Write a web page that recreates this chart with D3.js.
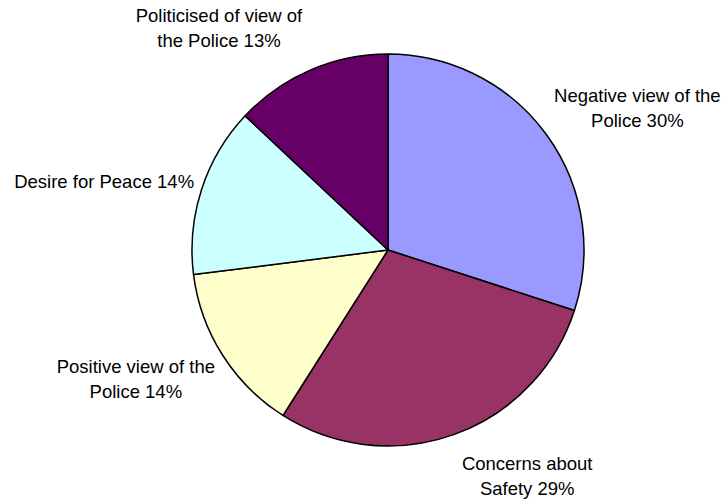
<!DOCTYPE html>
<html>
<head>
<meta charset="utf-8">
<script src="https://cdn.jsdelivr.net/npm/d3@7"></script>
<style>
  body { margin: 0; background: #fff; }
  text { font-family: "Liberation Sans", Arial, sans-serif; font-size: 18.5px; fill: #000; }
</style>
</head>
<body>
<script>
// slices, clockwise from 12 o'clock
const categories = ["Negative view of the|Police", "Concerns about|Safety", "Positive view of the|Police", "Desire for Peace", "Politicised of view of|the Police"];
const values = [30, 29, 14, 14, 13];
const colors = ["#9999FF", "#993366", "#FFFFCC", "#CCFFFF", "#660066"];

const width = 726, height = 500;
const cx = 388, cy = 250, radius = 196;

const svg = d3.select("body").append("svg")
  .attr("width", width)
  .attr("height", height);

const pie = d3.pie().sort(null).value(d => d);
const arc = d3.arc().innerRadius(0).outerRadius(radius);
const arcs = pie(values);

const g = svg.append("g").attr("transform", `translate(${cx},${cy})`);

g.selectAll("path")
  .data(arcs)
  .enter().append("path")
  .attr("d", arc)
  .attr("fill", (d, i) => colors[i])
  .attr("stroke", "#000")
  .attr("stroke-width", 1.5)
  .attr("stroke-linejoin", "round");

// labels sit just outside the rim, box pushed away from the slice midpoint
const lineH = 25;
arcs.forEach((d, i) => {
  const a = (d.startAngle + d.endAngle) / 2;
  const px = Math.sin(a) * radius;
  const py = -Math.cos(a) * radius;
  const lines = categories[i].split("|");
  lines[lines.length - 1] += " " + values[i] + "%";

  const t = g.append("text").attr("text-anchor", "middle");
  lines.forEach((s, k) => {
    t.append("tspan").attr("x", 0).attr("y", k * lineH).text(s);
  });
  const bb = t.node().getBBox();
  const w = bb.width, h = lines.length * lineH;
  const bx = px + Math.sign(Math.sin(a)) * (w / 2 + 7.5);
  const by = py - Math.cos(a) * h * 0.9;
  const firstBase = by - (lines.length - 1) * lineH / 2 + 6;
  t.attr("transform", `translate(${bx},${firstBase})`);
});
</script>
</body>
</html>
